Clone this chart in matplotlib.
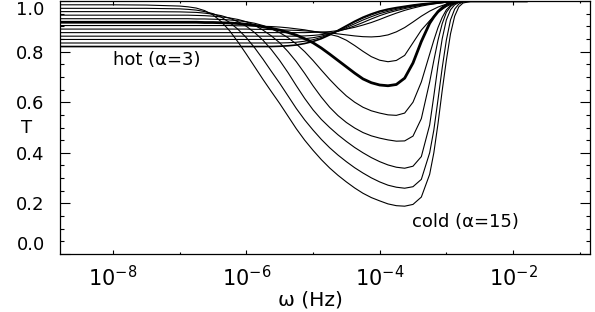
import numpy as np
import matplotlib
matplotlib.use("Agg")
import matplotlib.pyplot as plt
from matplotlib.ticker import FixedLocator, FixedFormatter, NullFormatter

# log10 of angular frequency (Hz) at which the curves were read
log_omega = [-8.8, -8.0, -7.5, -7.0, -6.875, -6.75, -6.625, -6.5, -6.375, -6.25,
             -6.125, -6.0, -5.875, -5.75, -5.625, -5.5, -5.375, -5.25, -5.125, -5.0,
             -4.875, -4.75, -4.625, -4.5, -4.375, -4.25, -4.125, -4.0, -3.875, -3.75,
             -3.625, -3.5, -3.375, -3.25, -3.1875, -3.125, -3.0625, -3.0, -2.9375, -2.875,
             -2.8125, -2.75, -2.625, -2.5, -2.25, -1.8]

alphas = [3, 4, 5, 6, 7, 8, 9, 10, 11, 12, 13, 14, 15]

T_a3 = [.820, .820, .820, .820, .820, .820, .820, .820, .820, .820,
        .820, .820, .820, .820, .820, .821, .823, .826, .832, .840,
        .851, .866, .884, .902, .920, .936, .949, .960, .968, .974,
        .979, .984, .988, .991, .992, .994, .995, .997, .997, .998,
        .998, .999, 1, 1, 1, 1]
T_a4 = [.834, .834, .834, .834, .834, .834, .834, .834, .834, .834,
        .834, .834, .834, .834, .834, .834, .835, .837, .841, .847,
        .856, .868, .883, .900, .917, .932, .945, .956, .964, .971,
        .977, .982, .987, .990, .992, .994, .995, .996, .997, .998,
        .998, .999, 1, 1, 1, 1]
T_a5 = [.848, .848, .848, .848, .848, .848, .848, .848, .848, .848,
        .848, .848, .848, .848, .848, .848, .848, .849, .851, .855,
        .861, .870, .881, .895, .910, .925, .938, .950, .959, .967,
        .974, .980, .985, .989, .991, .993, .994, .996, .997, .998,
        .998, .999, 1, 1, 1, 1]
T_a6 = [.861, .861, .861, .861, .861, .861, .861, .861, .861, .861,
        .861, .861, .861, .861, .861, .861, .861, .861, .862, .864,
        .867, .872, .880, .890, .902, .915, .929, .942, .953, .962,
        .970, .977, .983, .988, .990, .992, .993, .995, .996, .997,
        .998, .999, 1, 1, 1, 1]
T_a7 = [.875, .875, .875, .875, .875, .875, .875, .875, .875, .875,
        .875, .875, .875, .875, .875, .875, .875, .875, .875, .876,
        .877, .879, .883, .889, .896, .905, .915, .927, .940, .952,
        .963, .972, .980, .986, .988, .991, .993, .995, .996, .997,
        .998, .999, 1, 1, 1, 1]
T_a8 = [.889, .889, .889, .889, .889, .889, .889, .889, .889, .889,
        .889, .889, .888, .888, .887, .886, .885, .884, .882, .880,
        .877, .874, .870, .866, .862, .859, .858, .860, .866, .878,
        .895, .917, .940, .960, .968, .976, .982, .987, .991, .994,
        .997, .998, 1, 1, 1, 1]
T_a9 = [.903, .903, .903, .903, .903, .903, .903, .903, .903, .903,
        .902, .902, .901, .900, .899, .897, .894, .890, .886, .880,
        .874, .868, .860, .845, .824, .801, .780, .766, .760, .765,
        .785, .835, .885, .922, .940, .955, .967, .978, .986, .992,
        .996, .999, 1, 1, 1, 1]
T_a10 = [.916, .916, .916, .916, .916, .916, .915, .915, .914, .913,
         .911, .908, .904, .898, .892, .885, .876, .865, .851, .835,
         .814, .790, .765, .740, .715, .692, .677, .668, .665, .670,
         .695, .755, .840, .912, .937, .958, .973, .985, .992, .996,
         .998, 1, 1, 1, 1, 1]
T_a11 = [.930, .930, .930, .930, .930, .929, .929, .928, .927, .925,
         .922, .918, .912, .903, .890, .875, .855, .830, .800, .765,
         .727, .690, .656, .625, .600, .580, .566, .557, .550, .548,
         .557, .600, .680, .790, .845, .895, .935, .965, .982, .992,
         .997, .999, 1, 1, 1, 1]
T_a12 = [.944, .944, .944, .944, .944, .943, .942, .940, .937, .933,
         .927, .918, .904, .885, .862, .835, .800, .760, .714, .665,
         .620, .580, .547, .520, .498, .480, .467, .458, .451, .446,
         .447, .466, .535, .680, .765, .845, .910, .955, .978, .990,
         .996, .999, 1, 1, 1, 1]
T_a13 = [.958, .958, .958, .957, .956, .955, .952, .948, .942, .932,
         .918, .900, .875, .845, .808, .765, .717, .665, .615, .570,
         .532, .500, .471, .445, .421, .400, .381, .365, .352, .343,
         .339, .347, .385, .510, .625, .745, .850, .925, .965, .985,
         .994, .998, 1, 1, 1, 1]
T_a14 = [.971, .971, .971, .969, .967, .964, .958, .950, .936, .915,
         .888, .855, .815, .770, .722, .675, .625, .575, .530, .490,
         .453, .420, .391, .365, .341, .320, .301, .285, .272, .264,
         .260, .266, .295, .400, .490, .610, .735, .845, .925, .968,
         .988, .996, 1, 1, 1, 1]
T_a15 = [.985, .985, .984, .980, .977, .972, .962, .945, .918, .882,
         .838, .790, .740, .690, .642, .595, .545, .495, .450, .410,
         .373, .340, .311, .285, .261, .240, .223, .210, .198, .191,
         .189, .196, .225, .315, .400, .515, .645, .765, .870, .940,
         .977, .992, .999, 1, 1, 1]

curves = [T_a3, T_a4, T_a5, T_a6, T_a7, T_a8, T_a9, T_a10, T_a11, T_a12, T_a13, T_a14, T_a15]
highlight_alpha = 10

x_major = [1e-8, 1e-6, 1e-4, 1e-2]
x_major_labels = [r"$10^{-8}$", r"$10^{-6}$", r"$10^{-4}$", r"$10^{-2}$"]
x_minor = [1e-9, 1e-7, 1e-5, 1e-3, 1e-1]
y_major = [0.0, 0.2, 0.4, 0.6, 0.8, 1.0]
y_major_labels = ["0.0", "0.2", "0.4", "0.6", "0.8", "1.0"]
y_minor = [0.05, 0.1, 0.15, 0.25, 0.3, 0.35, 0.45, 0.5, 0.55, 0.65, 0.7, 0.75, 0.85, 0.9, 0.95]

plt.rcParams['font.family'] = ['DejaVu Sans']
plt.rcParams['mathtext.fontset'] = 'dejavusans'

fig = plt.figure(figsize=(5.95, 3.12), dpi=100)
ax = fig.add_axes([60 / 595, 58 / 312, 530 / 595, 253 / 312])

omega = 10.0 ** np.array(log_omega)
for a, T in zip(alphas, curves):
    if a == highlight_alpha:
        lw = 2.0
    elif a == alphas[0]:
        lw = 1.2
    else:
        lw = 0.8
    ax.plot(omega, T, color='black', lw=lw, solid_joinstyle='round', zorder=3)

ax.set_xscale('log')
ax.set_xlim(10 ** -8.795, 10 ** -0.845)
ax.set_ylim(0.0, 1.0)

ax.xaxis.set_major_locator(FixedLocator(x_major))
ax.xaxis.set_major_formatter(FixedFormatter(x_major_labels))
ax.xaxis.set_minor_locator(FixedLocator(x_minor))
ax.xaxis.set_minor_formatter(NullFormatter())
ax.yaxis.set_major_locator(FixedLocator(y_major))
ax.yaxis.set_major_formatter(FixedFormatter(y_major_labels))
ax.yaxis.set_minor_locator(FixedLocator(y_minor))

ax.tick_params(axis='x', which='major', direction='in', length=3.0, width=0.8,
               top=True, labelsize=15, pad=8)
ax.tick_params(axis='x', which='minor', direction='in', length=1.6, width=0.8, top=True)
ax.tick_params(axis='y', which='major', direction='in', length=7.5, width=0.8,
               right=True, labelsize=13, pad=11)
ax.tick_params(axis='y', which='minor', direction='in', length=3.0, width=0.8, right=True)

for s in ax.spines.values():
    s.set_linewidth(0.9)

ax.text(1.0e-8, 0.765, "hot (α=3)", fontsize=13, ha='left', va='center')
ax.text(10 ** -3.52, 0.126, "cold (α=15)", fontsize=13, ha='left', va='center')

fig.text(27 / 595, 1 - 128 / 312, "T", fontsize=13, ha='center', va='center')
fig.text(310 / 595, 1 - 300 / 312, "ω (Hz)", fontsize=14.5, ha='center', va='center')

fig.canvas.draw()
for lab in ax.get_yticklabels():
    if lab.get_text() == "1.0":
        lab.set_va('top')
    if lab.get_text() == "0.0":
        lab.set_va('bottom')

fig.savefig("out.png", dpi=100)
